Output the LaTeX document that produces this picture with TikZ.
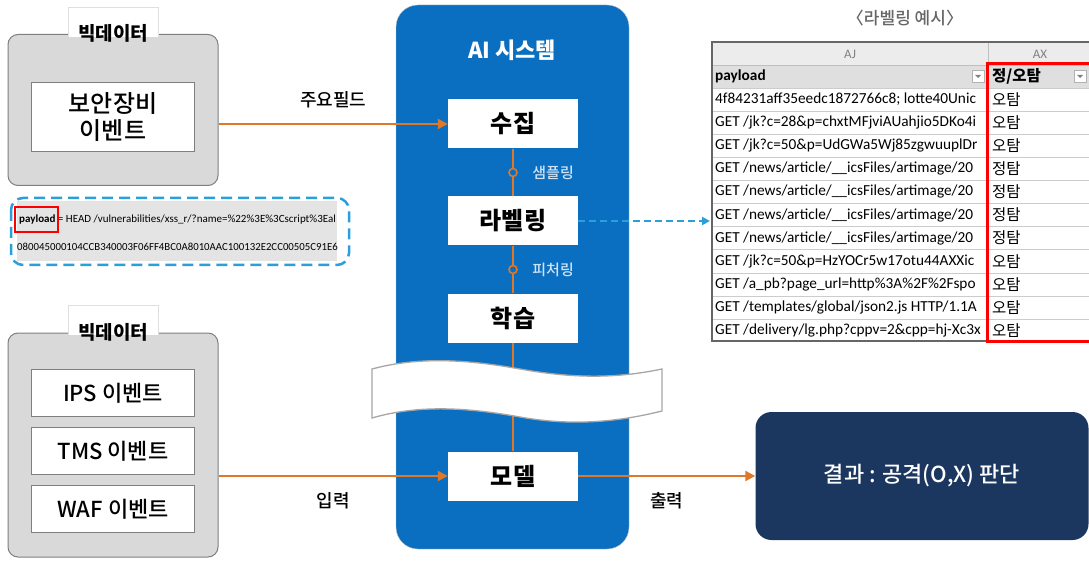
\documentclass[tikz,border=0pt]{standalone}
\usepackage{fontspec}
\setmainfont{Noto Sans CJK KR}
\newfontfamily\medfont{Noto Sans CJK KR Medium}
\newfontfamily\tabfont{Carlito}
\usetikzlibrary{arrows.meta}
\definecolor{sysblue}{HTML}{0A6FC1}
\definecolor{navy}{HTML}{1B365F}
\definecolor{flow}{HTML}{E0782A}
\definecolor{dashblue}{HTML}{2A9FD9}
\definecolor{boxgray}{HTML}{D9D9D9}
\definecolor{edgegray}{HTML}{7F7F7F}
\definecolor{steptext}{HTML}{CFE3F4}
\definecolor{tabgray}{HTML}{E4E4E4}
\newcommand{\fs}[1]{\fontsize{#1}{#1}\selectfont}
\tikzset{
  stepbox/.style={fill=white, minimum width=130pt, minimum height=49pt, font=\bfseries\fs{24}},
  eventbox/.style={draw=edgegray, fill=white, minimum width=163pt, minimum height=47pt, font=\medfont\fs{22}},
  bigdata/.style={draw=edgegray, fill=boxgray, rounded corners=10pt, line width=1pt},
  tabtitle/.style={font=\bfseries\fs{19}},
  flowline/.style={draw=flow, line width=2.2pt},
  flowarrow/.style={flowline, -{Triangle[length=10pt,width=10pt]}},
  flowlabel/.style={font=\medfont\fs{18}},
  dot/.style={circle, draw=flow, fill=sysblue, line width=1.6pt, inner sep=0pt, minimum size=8pt},
  cell/.style={anchor=west, font=\tabfont\fs{15.3}, inner sep=0pt},
  verdict/.style={anchor=west, font=\fs{15.5}, inner sep=0pt}
}
\begin{document}
\begin{tikzpicture}[x=1pt, y=-1pt]
\useasboundingbox (0,0) rectangle (1089,561);

% big data, top
\node[bigdata, minimum width=210pt, minimum height=151pt] (bd1) at (113,110) {};
\filldraw[fill=white, draw=gray!25] (68,37) -- (68,7) -- (158,7) -- (158,37);
\node[tabtitle] (tab1) at (113,33) {빅데이터};
\node[eventbox, minimum height=69pt, font=\medfont\fontsize{24}{27}\selectfont, align=center] (sec) at (113,117) {보안장비\\이벤트};

% payload snippet
\fill[tabgray] (17,201) rectangle (337,261);
\begin{scope}
  \clip (17,201) rectangle (337,261);
  \node[anchor=west, inner sep=0pt, font=\tabfont\fs{11}] (pl1) at (19,220) {\textbf{payload} = HEAD /vulnerabilities/xss\_r/?name=\%22\%3E\%3Cscript\%3Eal};
  \node[anchor=west, inner sep=0pt, font=\tabfont\fs{10.8}] (pl2) at (17,247) {080045000104CCB340003F06FF4BC0A8010AAC100132E2CC00505C91E63};
\end{scope}
\draw[red, line width=2pt] (15,207) rectangle (58,232);
\draw[dashblue, line width=2.5pt, dash pattern=on 11pt off 6pt, rounded corners=12pt] (11,198) rectangle (349,265);

% big data, bottom
\node[bigdata, minimum width=210pt, minimum height=224pt] (bd2) at (113,445) {};
\filldraw[fill=white, draw=gray!25] (68,335) -- (68,305) -- (158,305) -- (158,335);
\node[tabtitle] (tab2) at (113,332) {빅데이터};
\node[eventbox] (ips) at (113,393) {IPS 이벤트};
\node[eventbox] (tms) at (113,451) {TMS 이벤트};
\node[eventbox] (waf) at (113,509) {WAF 이벤트};

% AI system
\filldraw[fill=sysblue, draw=gray!50, rounded corners=22pt] (396,5) rectangle (629,549);
\node[font=\bfseries\fs{22}, text=white] (sys) at (512,50) {AI 시스템};
\node[stepbox] (collect) at (513,124) {수집};
\node[stepbox] (label) at (513,221) {라벨링};
\node[stepbox] (learn) at (513,318) {학습};
\node[stepbox] (model) at (513,476) {모델};
\draw[flowline] (collect) -- (label) node[midway, dot] (d1) {} node[midway, right=15pt, text=steptext, font=\medfont\fs{15}] (s1) {샘플링};
\draw[flowline] (label) -- (learn) node[midway, dot] (d2) {} node[midway, right=15pt, text=steptext, font=\medfont\fs{15}] (s2) {피처링};
\draw[flowline] (learn) -- (model);

% break
\filldraw[fill=white, draw=gray!70, line width=1.3pt]
  (372,369) .. controls (420,356) and (470,360) .. (520,369)
  .. controls (565,377) and (610,380) .. (662,369) -- (662,411)
  .. controls (610,424) and (565,425) .. (520,417)
  .. controls (470,408) and (420,404) .. (372,418) -- cycle;

% table
\node[font=\medfont\fs{17}, text=gray!80!black] (ttl) at (905,18) {〈라벨링 예시〉};
\fill[gray!15] (712,42) rectangle (1089,65);
\fill[gray!25] (712,65) rectangle (1089,88);
\draw[gray!50] (712,65) -- (1089,65) (988,42) -- (988,341);
\foreach \i in {0,...,10}
  \draw[gray!40] (712,{88+\i*23.1}) -- (1089,{88+\i*23.1});
\draw[gray!80!black, line width=1.5pt] (1089,42) -- (712,42) -- (712,341) -- (1089,341);
\node[font=\tabfont\fs{13}, text=gray] (aj) at (850,54) {AJ};
\node[font=\tabfont\fs{13}, text=gray] (ax) at (1040,54) {AX};
\node[cell, font=\tabfont\bfseries\fs{15.3}] (hp) at (715,76) {payload};
\node[verdict, font=\bfseries\fs{15.5}] (hm) at (992,76) {정/오탐};
\foreach \bx in {972,1074} {
  \draw[gray!60, fill=white] (\bx,70) rectangle (\bx+12,82);
  \fill[gray] (\bx+3,75) -- (\bx+9,75) -- (\bx+6,78) -- cycle;
}
\foreach \txt [count=\i] in {
    {4f84231aff35eedc1872766c8; lotte40Unic},
    {GET /jk?c=28\&p=chxtMFjviAUahjio5DKo4i},
    {GET /jk?c=50\&p=UdGWa5Wj85zgwuuplDr},
    {GET /news/article/\_\_icsFiles/artimage/20},
    {GET /news/article/\_\_icsFiles/artimage/20},
    {GET /news/article/\_\_icsFiles/artimage/20},
    {GET /news/article/\_\_icsFiles/artimage/20},
    {GET /jk?c=50\&p=HzYOCr5w17otu44AXXic},
    {GET /a\_pb?page\_url=http\%3A\%2F\%2Fspo},
    {GET /templates/global/json2.js HTTP/1.1A},
    {GET /delivery/lg.php?cppv=2\&cpp=hj-Xc3x}}
  \node[cell] (r\i) at (715,{88+(\i-0.5)*23.1}) {\txt};
\foreach \lab [count=\i] in {오탐,오탐,오탐,정탐,정탐,정탐,정탐,오탐,오탐,오탐,오탐}
  \node[verdict] (m\i) at (992,{88+(\i-0.5)*23.1}) {\lab};
\draw[red, line width=3pt] (987,64) rectangle (1090,341);
\coordinate (tblin) at (710,221);
\draw[dashblue, line width=2pt, dash pattern=on 7pt off 4pt, -{Triangle[length=8pt,width=8pt]}] (label) -- (tblin);

% result
\node[fill=navy, rounded corners=16pt, minimum width=333pt, minimum height=128pt, text=white, font=\medfont\fs{22}] (result) at (922,476) {결과 : 공격(O,X) 판단};

% flows
\draw[flowarrow] (bd1.east |- collect) -- (collect) node[midway, above=12pt, flowlabel, text=black] (l1) {주요필드};
\draw[flowarrow] (bd2.east |- model) -- (model) node[midway, below=12pt, flowlabel, text=black] (l2) {입력};
\draw[flowarrow] (model) -- (result) node[midway, below=12pt, flowlabel, text=black] (l3) {출력};
\end{tikzpicture}
\end{document}
